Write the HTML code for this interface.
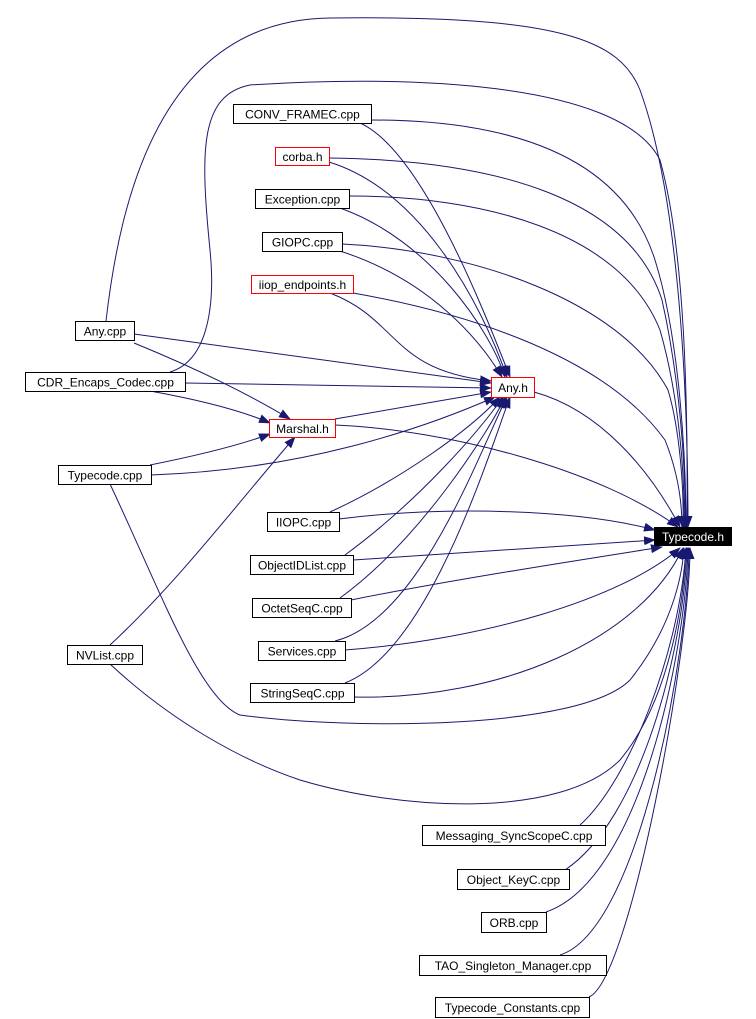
<!DOCTYPE html>
<html><head><meta charset="utf-8"><style>
body{margin:0;background:#fff;}
svg{display:block;}
text{font-family:"Liberation Sans",Arial,sans-serif;font-size:12px;fill:#000;}
</style></head><body>
<svg width="756" height="1019" viewBox="0 0 756 1019" xmlns="http://www.w3.org/2000/svg">
<defs>
<marker id="a" markerWidth="12" markerHeight="9" refX="11" refY="4.5" orient="auto" markerUnits="userSpaceOnUse">
<path d="M0,0 L12,4.5 L0,9 Z" fill="#191970"/>
</marker>
</defs>
<g fill="none" stroke="#191970" stroke-width="1" marker-end="url(#a)">
<!-- to Typecode.h -->
<path d="M106,321 C120,200 160,20 330,18 C560,15 620,40 640,90 C680,200 688,400 688,527"/>
<path d="M170,372 C210,360 215,300 210,250 C200,150 200,95 250,85 C400,75 620,80 660,160 C685,250 688,400 687,527"/>
<path d="M371,120 C500,120 620,150 655,260 C680,340 686,460 686,527"/>
<path d="M329,158 C500,160 630,200 662,300 C680,380 686,470 685,527"/>
<path d="M349,196 C480,196 620,230 660,330 C680,400 685,480 684,527"/>
<path d="M342,244 C470,250 620,300 668,390 C680,430 684,490 683,527"/>
<path d="M353,293 C450,310 600,350 665,440 C677,470 682,500 682,527"/>
<path d="M534,392 C600,410 650,470 680,527"/>
<path d="M335,425 C450,430 600,470 678,527"/>
<path d="M339,519 C450,505 580,510 655,530"/>
<path d="M353,560 L655,540"/>
<path d="M351,600 C450,580 580,560 662,547"/>
<path d="M345,650 C480,640 620,600 680,548"/>
<path d="M354,697 C500,700 640,640 683,548"/>
<path d="M110,484 C160,590 200,700 240,715 C350,730 580,730 630,680 C670,630 682,580 684,548"/>
<path d="M110,664 C170,720 240,760 300,780 C400,810 560,820 620,760 C670,700 684,600 686,548"/>
<path d="M580,825 C630,780 680,650 686,548"/>
<path d="M565,870 C640,820 684,650 687,548"/>
<path d="M546,912 C640,880 686,650 688,548"/>
<path d="M560,955 C640,930 688,650 689,548"/>
<path d="M589,997 C630,980 690,650 690,548"/>
<!-- to Any.h -->
<path d="M360,123 C420,150 480,300 510,377"/>
<path d="M329,162 C420,190 480,300 507,377"/>
<path d="M340,208 C430,240 490,330 505,377"/>
<path d="M340,251 C430,280 480,340 502,377"/>
<path d="M330,293 C400,320 390,370 491,381"/>
<path d="M134,334 L491,383"/>
<path d="M185,383 L491,388"/>
<path d="M335,419 L491,392"/>
<path d="M151,475 C300,470 420,430 495,397"/>
<path d="M330,512 C400,480 470,430 500,397"/>
<path d="M345,555 C420,500 480,430 503,397"/>
<path d="M340,598 C420,540 490,430 505,397"/>
<path d="M335,641 C420,620 480,450 507,397"/>
<path d="M345,683 C430,650 490,450 510,397"/>
<!-- to Marshal.h -->
<path d="M134,343 C200,370 250,395 290,419"/>
<path d="M150,391 C200,400 240,410 270,423"/>
<path d="M150,465 C200,455 240,445 270,434"/>
<path d="M110,645 C180,580 240,500 295,437"/>
</g>
<g stroke-width="1" fill="#fff">
<rect x="233.5" y="104.5" width="138" height="19" stroke="#000"/>
<rect x="275.5" y="147.5" width="54" height="18" stroke="#f00"/>
<rect x="255.5" y="189.5" width="94" height="19" stroke="#000"/>
<rect x="262.5" y="232.5" width="80" height="19" stroke="#000"/>
<rect x="251.5" y="275.5" width="102" height="18" stroke="#f00"/>
<rect x="75.5" y="321.5" width="59" height="19" stroke="#000"/>
<rect x="25.5" y="372.5" width="160" height="19" stroke="#000"/>
<rect x="269.5" y="419.5" width="66" height="18" stroke="#f00"/>
<rect x="58.5" y="465.5" width="93" height="19" stroke="#000"/>
<rect x="491.5" y="377.5" width="43" height="20" stroke="#f00"/>
<rect x="654" y="527" width="78" height="19" fill="#000" stroke="none"/>
<rect x="267.5" y="512.5" width="72" height="19" stroke="#000"/>
<rect x="250.5" y="555.5" width="103" height="19" stroke="#000"/>
<rect x="252.5" y="598.5" width="99" height="19" stroke="#000"/>
<rect x="258.5" y="641.5" width="87" height="19" stroke="#000"/>
<rect x="250.5" y="683.5" width="104" height="19" stroke="#000"/>
<rect x="67.5" y="645.5" width="75" height="19" stroke="#000"/>
<rect x="422.5" y="825.5" width="183" height="20" stroke="#000"/>
<rect x="457.5" y="869.5" width="112" height="20" stroke="#000"/>
<rect x="481.5" y="912.5" width="65" height="20" stroke="#000"/>
<rect x="419.5" y="955.5" width="187" height="20" stroke="#000"/>
<rect x="435.5" y="997.5" width="154" height="20" stroke="#000"/>
</g>
<g text-anchor="middle">
<text x="302.5" y="118.5">CONV_FRAMEC.cpp</text>
<text x="302.5" y="161">corba.h</text>
<text x="302.5" y="203.5">Exception.cpp</text>
<text x="302.5" y="246.5">GIOPC.cpp</text>
<text x="302.5" y="289">iiop_endpoints.h</text>
<text x="105" y="335.5">Any.cpp</text>
<text x="105.5" y="386.5">CDR_Encaps_Codec.cpp</text>
<text x="302.5" y="433">Marshal.h</text>
<text x="105" y="479.5">Typecode.cpp</text>
<text x="513" y="392">Any.h</text>
<text x="693" y="541" style="fill:#fff">Typecode.h</text>
<text x="303.5" y="526.5">IIOPC.cpp</text>
<text x="302" y="569.5">ObjectIDList.cpp</text>
<text x="302" y="612.5">OctetSeqC.cpp</text>
<text x="302" y="655.5">Services.cpp</text>
<text x="302.5" y="697.5">StringSeqC.cpp</text>
<text x="105" y="659.5">NVList.cpp</text>
<text x="514" y="840">Messaging_SyncScopeC.cpp</text>
<text x="513.5" y="884">Object_KeyC.cpp</text>
<text x="514" y="927">ORB.cpp</text>
<text x="513" y="970">TAO_Singleton_Manager.cpp</text>
<text x="512.5" y="1012">Typecode_Constants.cpp</text>
</g>
</svg>
</body></html>
